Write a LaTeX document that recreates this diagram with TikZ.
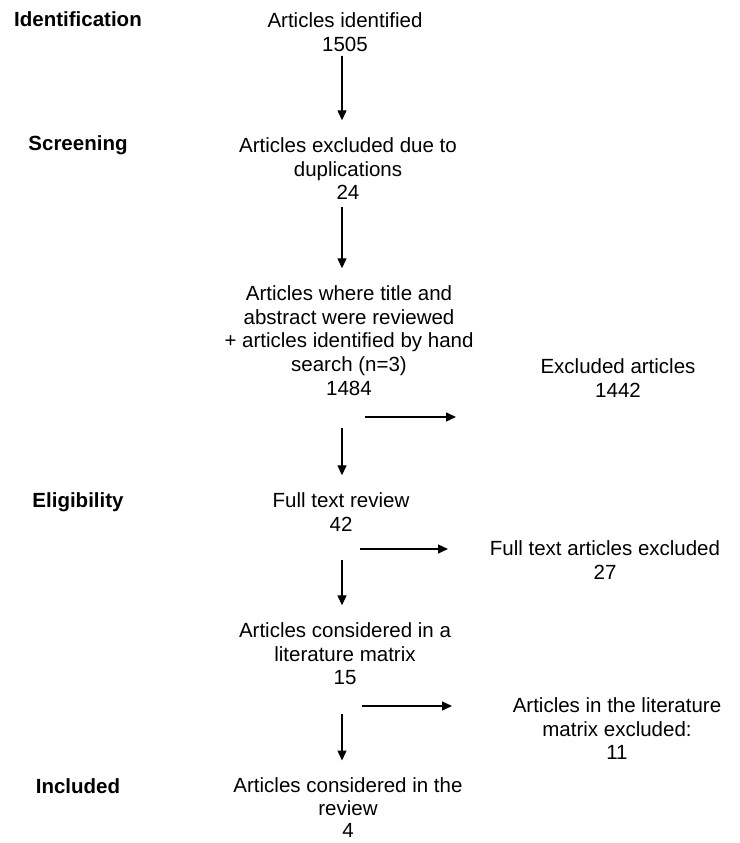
\documentclass[tikz,border=0pt]{standalone}
\usepackage{fontspec}
\setmainfont{Liberation Sans}
\usepackage{xcolor}
\usetikzlibrary{arrows.meta}

\tikzset{
  stage/.style={anchor=base,inner sep=0pt,font=\fontsize{20.5pt}{23.8pt}\selectfont\bfseries},
  count/.style={anchor=north,inner sep=0pt,align=center,font=\fontsize{20.5pt}{23.8pt}\selectfont},
  flow/.style={line width=1.3pt,-{Triangle[length=10pt,width=9pt]}}
}

\begin{document}
\begin{tikzpicture}[x=1pt,y=-1pt]
    \useasboundingbox (0,0) rectangle (739,843);
    \coordinate (col) at (342,0);

    \node[stage] (lident) at (78,27)  {Identification};
    \node[stage] (lscreen) at (78,150) {Screening};
    \node[stage] (lelig) at (78,507)  {Eligibility};
    \node[stage] (lincl) at (78,793)  {Included};

    \node[count] (ident)  at (345,12.3)  {Articles identified\\1505};
    \node[count] (dup)    at (348,137.3) {Articles excluded due to\\duplications\\24};
    \node[count] (title)  at (349,285.3) {Articles where title and\\abstract were reviewed\\+ articles identified by hand\\search (n=3)\\1484};
    \node[count] (full)   at (341,492.3) {Full text review\\42};
    \node[count] (matrix) at (345,622.3) {Articles considered in a\\literature matrix\\15};
    \node[count,font=\fontsize{20.5pt}{22.5pt}\selectfont] (review) at (348,777.5) {Articles considered in the\\review\\4};

    \node[count] (excl)   at (618,358.3) {Excluded articles\\1442};
    \node[count] (ftex)   at (605,540.3) {Full text articles excluded\\27};
    \node[count] (lmex)   at (617,697.3) {Articles in the literature\\matrix excluded:\\11};

    \foreach \a/\b/\s in {ident/dup/4,dup/title/7,title/full/32,full/matrix/29,matrix/review/29}
    \draw[flow,shorten <=\s pt,shorten >=17pt] (\a.south -| col) -- (\b.north -| col);

    \coordinate (hexcl) at (365,417);
    \coordinate (hftex) at (360,549);
    \coordinate (hlmex) at (362,706);
    \foreach \h/\l in {hexcl/91,hftex/88,hlmex/90}
    \draw[flow] (\h) -- +(\l,0);
\end{tikzpicture}
\end{document}
